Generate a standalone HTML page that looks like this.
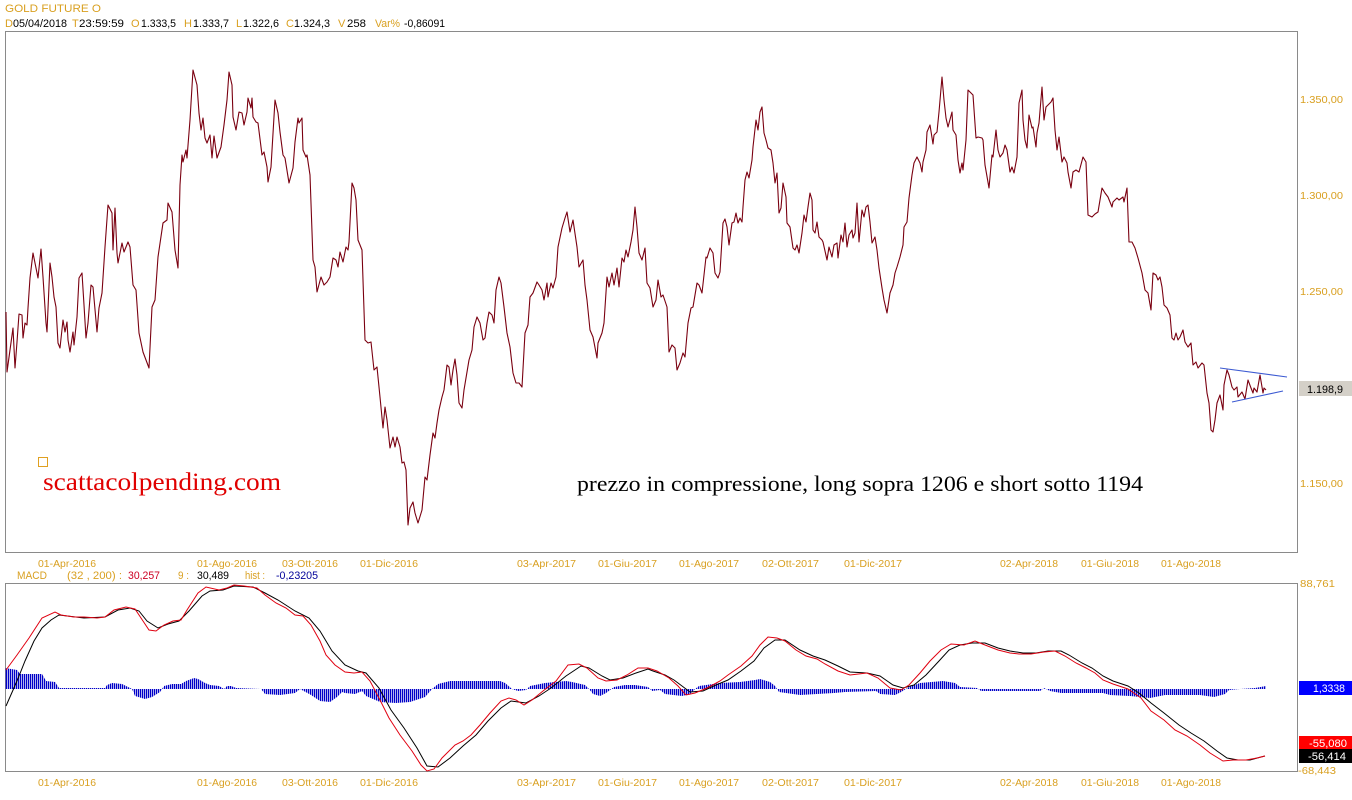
<!DOCTYPE html>
<html><head><meta charset="utf-8"><style>
html,body{margin:0;padding:0;background:#fff;}
svg{display:block;}
text{font-family:"Liberation Sans",Arial,sans-serif;}
.o{fill:#d9a021;font-size:11px;}
.k{fill:#000;font-size:11px;}
.ax{fill:#d9a021;font-size:10px;}
.serif{font-family:"Liberation Serif","Times New Roman",serif;}
</style></head><body>
<svg width="1352" height="800" viewBox="0 0 1352 800" xmlns="http://www.w3.org/2000/svg">
<defs>
<pattern id="hb" x="0" y="0" width="2" height="10" patternUnits="userSpaceOnUse"><rect x="0" y="0" width="1.3" height="10" fill="#0000c8"/></pattern>
</defs>
<rect width="1352" height="800" fill="#fff"/>

<!-- header -->
<text x="5" y="12" class="o" textLength="96" lengthAdjust="spacingAndGlyphs">GOLD FUTURE O</text>
<text x="5" y="27" class="o">D</text><text x="13" y="27" class="k" textLength="54" lengthAdjust="spacingAndGlyphs">05/04/2018</text>
<text x="72" y="27" class="o">T</text><text x="79" y="27" class="k" textLength="45" lengthAdjust="spacingAndGlyphs">23:59:59</text>
<text x="131" y="27" class="o">O</text><text x="141" y="27" class="k" textLength="35" lengthAdjust="spacingAndGlyphs">1.333,5</text>
<text x="184" y="27" class="o">H</text><text x="193" y="27" class="k" textLength="36" lengthAdjust="spacingAndGlyphs">1.333,7</text>
<text x="236" y="27" class="o">L</text><text x="243" y="27" class="k" textLength="36" lengthAdjust="spacingAndGlyphs">1.322,6</text>
<text x="286" y="27" class="o">C</text><text x="294" y="27" class="k" textLength="36" lengthAdjust="spacingAndGlyphs">1.324,3</text>
<text x="338" y="27" class="o">V</text><text x="347" y="27" class="k" textLength="19" lengthAdjust="spacingAndGlyphs">258</text>
<text x="375" y="27" class="o" textLength="25" lengthAdjust="spacingAndGlyphs">Var%</text><text x="404" y="27" class="k" textLength="41" lengthAdjust="spacingAndGlyphs">-0,86091</text>

<!-- main panel -->
<rect x="5.5" y="31.5" width="1292" height="521" fill="none" stroke="#8a8a8a" stroke-width="1"/>

<!-- price axis labels -->
<text x="1300" y="103" class="ax" textLength="43" lengthAdjust="spacingAndGlyphs">1.350,00</text>
<text x="1300" y="199" class="ax" textLength="43" lengthAdjust="spacingAndGlyphs">1.300,00</text>
<text x="1300" y="295" class="ax" textLength="43" lengthAdjust="spacingAndGlyphs">1.250,00</text>
<text x="1300" y="487" class="ax" textLength="43" lengthAdjust="spacingAndGlyphs">1.150,00</text>
<rect x="1299" y="381" width="53" height="15" fill="#d4d0c8"/>
<text x="1307" y="393" class="k" font-size="11" textLength="36" lengthAdjust="spacingAndGlyphs">1.198,9</text>

<!-- price line -->
<polyline fill="none" stroke="#7a0010" stroke-width="1.1" stroke-linejoin="round" points="6,312 7,372 10,350 13,328 15,368 17,342 19,314 22,315 23,338 25,323 27,325 28,308 30,278 33,253 35,263 38,278 41,249 43,277 46,323 47,332 50,263 52,277 54,297 56,307 58,343 60,348 63,320 65,332 67,322 68,340 70,352 73,332 74,345 77,317 79,278 82,273 84,305 86,338 88,323 91,285 93,287 97,332 99,308 102,293 105,247 108,205 112,213 113,250 115,208 117,253 118,263 122,243 124,252 128,242 130,247 133,285 136,290 139,333 143,352 149,368 152,307 155,300 158,257 163,223 167,220 168,203 172,212 175,250 178,268 180,185 182,155 183,162 186,150 187,158 190,120 193,70 197,85 199,113 201,130 203,118 205,138 207,143 210,135 212,158 214,136 217,158 221,147 224,125 227,100 229,72 232,85 233,117 236,130 239,112 242,113 244,125 247,112 248,98 251,108 252,98 253,117 256,122 258,123 262,155 264,152 267,167 268,182 271,167 275,100 278,113 280,132 283,155 285,158 289,183 293,168 295,142 298,118 299,123 302,118 303,150 306,157 307,155 310,175 313,260 315,267 317,292 321,277 324,285 327,282 330,277 333,258 336,260 338,267 340,252 343,262 346,247 348,250 349,242 352,183 354,188 356,200 358,240 362,250 365,340 368,343 371,342 374,370 377,367 380,397 383,428 385,407 387,420 390,448 393,437 395,447 397,437 400,447 402,463 404,462 406,470 408,525 410,508 413,502 415,513 418,523 422,510 425,477 427,480 430,455 433,433 435,438 437,423 439,410 442,397 444,390 447,365 449,367 451,385 453,370 455,359 457,375 459,403 462,408 464,390 467,372 469,360 472,350 474,327 477,317 480,323 483,340 485,338 487,323 489,312 492,315 494,323 496,290 499,277 501,283 504,307 507,333 510,347 513,373 516,383 519,383 522,387 525,333 528,325 530,297 533,293 537,282 539,285 542,290 544,300 547,283 548,297 551,283 553,288 556,277 558,247 562,228 565,218 567,212 570,232 573,220 577,247 579,267 583,260 585,285 587,300 590,330 593,337 597,358 598,343 602,333 604,323 607,277 609,287 612,273 614,285 617,268 619,287 622,258 624,262 626,250 628,257 631,242 633,230 635,207 637,227 639,253 642,260 645,248 647,283 650,288 653,307 656,300 658,280 661,297 663,295 667,307 669,352 672,345 675,348 677,370 680,363 683,353 685,357 688,323 691,308 693,307 697,283 699,285 702,293 706,257 707,258 710,248 713,253 715,273 718,278 720,272 723,223 725,219 727,227 729,245 732,223 734,222 736,213 738,223 740,218 742,222 743,207 745,180 747,172 749,178 752,160 753,147 756,120 758,130 760,112 762,107 764,133 766,140 768,148 771,150 773,163 775,183 777,173 779,213 781,208 783,183 786,197 787,223 790,227 793,248 795,250 797,245 799,253 802,233 804,215 806,222 808,207 810,193 812,200 813,230 815,233 817,222 819,237 822,240 823,242 827,260 829,247 832,257 834,245 837,243 838,258 841,235 843,242 845,223 847,247 849,235 852,230 853,238 855,233 857,203 859,242 862,210 864,217 866,207 868,205 870,222 872,243 875,237 877,250 879,268 882,288 884,300 887,313 890,293 893,285 895,273 897,267 900,257 903,245 904,227 907,222 909,198 912,175 914,163 917,157 920,163 922,172 923,162 926,150 927,132 930,125 933,144 934,135 937,132 939,112 942,77 944,100 946,118 948,127 952,112 953,130 956,135 958,160 960,173 962,163 963,170 966,140 968,90 971,93 973,95 976,138 978,137 982,138 983,140 985,165 989,188 992,155 993,157 996,130 998,150 1000,157 1003,153 1005,145 1007,150 1010,172 1012,167 1014,173 1017,157 1019,103 1022,90 1023,120 1025,140 1027,148 1029,115 1032,128 1033,127 1036,147 1037,133 1039,123 1042,87 1044,120 1046,107 1048,105 1051,102 1053,98 1055,130 1057,150 1059,137 1062,162 1064,157 1067,163 1068,172 1071,188 1073,172 1076,170 1079,172 1083,157 1086,162 1088,215 1092,217 1095,214 1098,212 1102,188 1105,193 1108,197 1112,207 1113,202 1117,198 1119,200 1123,197 1124,202 1127,188 1129,242 1132,242 1135,248 1138,258 1142,273 1145,290 1148,293 1151,310 1153,273 1156,275 1158,280 1160,277 1162,287 1164,305 1167,308 1170,315 1172,338 1174,340 1176,333 1178,340 1180,337 1183,330 1185,342 1188,347 1191,343 1193,365 1196,362 1198,368 1202,363 1204,365 1207,393 1209,403 1211,430 1213,432 1215,420 1217,403 1220,395 1223,410 1224,385 1227,370 1229,375 1232,387 1234,390 1237,387 1238,397 1242,392 1245,399 1248,380 1251,388 1253,393 1254,388 1257,392 1260,375 1263,393 1264,388 1266,390"/>

<!-- triangle -->
<line x1="1220" y1="368" x2="1287" y2="377" stroke="#3c5ad2" stroke-width="1.1"/>
<line x1="1232" y1="402" x2="1283" y2="391" stroke="#3c5ad2" stroke-width="1.1"/>

<!-- watermark / annotation -->
<rect x="38.5" y="457.5" width="9" height="9" fill="none" stroke="#e0a020" stroke-width="1"/>
<text x="43" y="490" class="serif" style="font-family:'Liberation Serif','Times New Roman',serif;font-size:25px;" fill="#e00000" textLength="238" lengthAdjust="spacingAndGlyphs">scattacolpending.com</text>
<text x="577" y="491" class="serif" style="font-family:'Liberation Serif','Times New Roman',serif;font-size:22px;" fill="#000" textLength="566" lengthAdjust="spacingAndGlyphs">prezzo in compressione, long sopra 1206 e short sotto 1194</text>

<!-- date labels main -->
<text x="38" y="567" class="ax" textLength="58" lengthAdjust="spacingAndGlyphs">01-Apr-2016</text>
<text x="197" y="567" class="ax" textLength="60" lengthAdjust="spacingAndGlyphs">01-Ago-2016</text>
<text x="282" y="567" class="ax" textLength="56" lengthAdjust="spacingAndGlyphs">03-Ott-2016</text>
<text x="360" y="567" class="ax" textLength="58" lengthAdjust="spacingAndGlyphs">01-Dic-2016</text>
<text x="517" y="567" class="ax" textLength="59" lengthAdjust="spacingAndGlyphs">03-Apr-2017</text>
<text x="598" y="567" class="ax" textLength="59" lengthAdjust="spacingAndGlyphs">01-Giu-2017</text>
<text x="679" y="567" class="ax" textLength="60" lengthAdjust="spacingAndGlyphs">01-Ago-2017</text>
<text x="762" y="567" class="ax" textLength="57" lengthAdjust="spacingAndGlyphs">02-Ott-2017</text>
<text x="844" y="567" class="ax" textLength="58" lengthAdjust="spacingAndGlyphs">01-Dic-2017</text>
<text x="1000" y="567" class="ax" textLength="58" lengthAdjust="spacingAndGlyphs">02-Apr-2018</text>
<text x="1081" y="567" class="ax" textLength="58" lengthAdjust="spacingAndGlyphs">01-Giu-2018</text>
<text x="1161" y="567" class="ax" textLength="60" lengthAdjust="spacingAndGlyphs">01-Ago-2018</text>

<!-- MACD header -->
<text x="17" y="579" class="o" textLength="30" lengthAdjust="spacingAndGlyphs">MACD</text>
<text x="67" y="579" class="o" textLength="55" lengthAdjust="spacingAndGlyphs">(32 , 200) :</text>
<text x="128" y="579" fill="#cc0022" font-size="11" textLength="32" lengthAdjust="spacingAndGlyphs">30,257</text>
<text x="178" y="579" class="o" textLength="11" lengthAdjust="spacingAndGlyphs">9 :</text>
<text x="197" y="579" class="k" textLength="32" lengthAdjust="spacingAndGlyphs">30,489</text>
<text x="245" y="579" class="o" textLength="20" lengthAdjust="spacingAndGlyphs">hist :</text>
<text x="276" y="579" fill="#000099" font-size="11" textLength="42" lengthAdjust="spacingAndGlyphs">-0,23205</text>

<!-- MACD panel -->
<rect x="5.5" y="583.5" width="1292" height="188" fill="none" stroke="#8a8a8a" stroke-width="1"/>

<!-- histogram -->
<polygon fill="url(#hb)" fill-rule="evenodd" points="5,668 17,670 20,674 42,674 46,681 55,682 59,688 105,688 107,685 112,683 122,684 126,686 132,689 135,696 145,699 152,697 160,692 164,686 172,684 181,684 186,681 194,678 198,679 205,683 210,685 219,686 224,689 227,686 231,686 236,688 261,689 265,694 280,695 295,693 300,689 311,695 320,701 330,702 337,697 342,692 345,693 355,694 362,691 366,696 380,702 396,703 410,702 425,697 432,689 438,684 450,681 480,681 500,681 505,683 512,689 518,691 526,690 530,686 545,683 566,681 572,682 585,685 589,689 593,694 600,696 606,693 614,687 625,685 635,685 648,687 652,691 660,690 665,694 682,696 690,694 695,689 699,686 720,683 740,682 755,680 760,679 770,682 775,686 779,692 800,695 834,693 845,692 876,691 880,694 895,695 901,692 909,687 920,683 943,681 955,683 960,687 977,688 981,691 1040,691 1044,688 1050,691 1061,693 1103,693 1110,695 1130,696 1150,698 1165,695 1200,695 1214,697 1225,694 1229,690 1240,689 1255,688 1266,686 1266,689 5,689"/>

<!-- MACD signal (black) -->
<polyline fill="none" stroke="#000" stroke-width="1" points="6,706 17,681 25,661 34,641 42,628 51,620 59,615 84,618 105,617 118,610 130,608 139,611 147,621 158,628 168,624 179,621 189,611 202,596 210,591 223,590 234,586 253,587 265,593 278,600 295,611 309,618 320,631 332,651 345,665 358,671 366,673 379,688 391,710 404,728 417,748 427,766 438,767 450,758 463,746 476,735 488,721 501,708 511,701 526,703 539,696 551,688 566,676 581,666 589,668 602,676 610,680 623,678 636,673 648,669 653,671 665,675 674,680 682,686 690,692 703,691 716,685 728,680 741,671 754,661 764,648 775,640 785,640 800,650 813,656 825,660 838,666 850,672 867,673 880,676 893,685 903,688 914,685 926,675 939,661 949,650 960,645 972,643 985,643 998,648 1010,651 1023,653 1036,653 1048,651 1061,651 1069,655 1082,663 1092,668 1103,676 1113,681 1128,686 1139,693 1151,703 1164,713 1179,725 1191,733 1204,741 1217,751 1227,758 1238,760 1250,760 1261,757 1265,756"/>
<!-- MACD (red) -->
<polyline fill="none" stroke="#e00010" stroke-width="1" points="6,670 17,655 29,638 42,618 55,612 61,615 74,617 84,617 97,618 105,617 114,610 126,607 135,609 143,621 149,630 156,631 164,625 173,621 181,620 187,610 198,593 206,587 219,590 227,588 234,585 244,586 257,588 265,595 276,603 286,608 295,615 303,616 311,625 320,641 326,655 335,665 345,672 354,673 362,672 370,681 379,698 389,718 400,735 412,751 421,765 427,771 434,769 442,758 455,745 463,741 471,735 480,725 490,713 501,701 509,698 516,700 524,705 532,700 543,691 556,681 568,665 579,664 587,668 598,678 606,681 617,680 627,675 638,668 648,668 657,671 669,678 678,686 686,695 695,693 707,688 720,681 728,675 741,666 752,656 760,645 768,637 777,638 785,641 796,650 806,656 817,659 825,664 838,671 850,675 867,673 878,678 890,688 901,690 909,685 920,673 930,661 941,650 951,644 964,645 975,641 985,645 998,650 1010,653 1019,654 1031,654 1044,652 1055,651 1065,656 1076,663 1086,668 1095,673 1103,680 1113,684 1128,689 1141,698 1151,711 1164,720 1175,730 1187,736 1200,745 1210,753 1223,761 1233,760 1246,760 1257,758 1265,756"/>

<!-- MACD axis labels -->
<text x="1300" y="587" class="ax" textLength="35" lengthAdjust="spacingAndGlyphs">88,761</text>
<text x="1298" y="774" class="ax" textLength="38" lengthAdjust="spacingAndGlyphs">-68,443</text>
<rect x="1299" y="681" width="53" height="14" fill="#0000ff"/>
<text x="1313" y="692" fill="#fff" font-size="11" textLength="32" lengthAdjust="spacingAndGlyphs">1,3338</text>
<rect x="1299" y="736" width="53" height="13" fill="#ff0000"/>
<text x="1309" y="747" fill="#fff" font-size="11" textLength="38" lengthAdjust="spacingAndGlyphs">-55,080</text>
<rect x="1299" y="749" width="53" height="14" fill="#000"/>
<text x="1308" y="760" fill="#fff" font-size="11" textLength="38" lengthAdjust="spacingAndGlyphs">-56,414</text>

<!-- date labels MACD -->
<text x="38" y="786" class="ax" textLength="58" lengthAdjust="spacingAndGlyphs">01-Apr-2016</text>
<text x="197" y="786" class="ax" textLength="60" lengthAdjust="spacingAndGlyphs">01-Ago-2016</text>
<text x="282" y="786" class="ax" textLength="56" lengthAdjust="spacingAndGlyphs">03-Ott-2016</text>
<text x="360" y="786" class="ax" textLength="58" lengthAdjust="spacingAndGlyphs">01-Dic-2016</text>
<text x="517" y="786" class="ax" textLength="59" lengthAdjust="spacingAndGlyphs">03-Apr-2017</text>
<text x="598" y="786" class="ax" textLength="59" lengthAdjust="spacingAndGlyphs">01-Giu-2017</text>
<text x="679" y="786" class="ax" textLength="60" lengthAdjust="spacingAndGlyphs">01-Ago-2017</text>
<text x="762" y="786" class="ax" textLength="57" lengthAdjust="spacingAndGlyphs">02-Ott-2017</text>
<text x="844" y="786" class="ax" textLength="58" lengthAdjust="spacingAndGlyphs">01-Dic-2017</text>
<text x="1000" y="786" class="ax" textLength="58" lengthAdjust="spacingAndGlyphs">02-Apr-2018</text>
<text x="1081" y="786" class="ax" textLength="58" lengthAdjust="spacingAndGlyphs">01-Giu-2018</text>
<text x="1161" y="786" class="ax" textLength="60" lengthAdjust="spacingAndGlyphs">01-Ago-2018</text>
</svg>
</body></html>
